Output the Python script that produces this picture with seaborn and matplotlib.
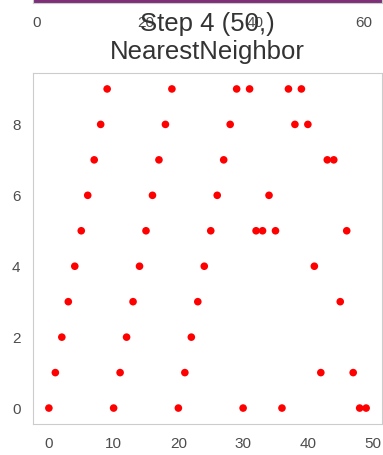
import numpy as np
import pandas as pd
import matplotlib
matplotlib.use('Agg')
import matplotlib.pyplot as plt
import seaborn as sns

sns.set_style('whitegrid')
plt.rcParams['font.family'] = ['Liberation Sans', 'DejaVu Sans']

# data
step_index = list(range(50))
step_values = [0, 1, 2, 3, 4, 5, 6, 7, 8, 9,
               0, 1, 2, 3, 4, 5, 6, 7, 8, 9,
               0, 1, 2, 3, 4, 5, 6, 7, 8, 9,
               0, 9, 5, 5, 6, 5, 0, 9, 8, 9,
               8, 4, 1, 7, 7, 3, 5, 1, 0, 0]
title_lines = ['Step 4 (50,)', 'NearestNeighbor']

# the panel above is cut off, only its last line and x ticks show
prev_level = 0
prev_ticks = [0, 20, 40, 60]

df = pd.DataFrame({'idx': step_index, 'val': step_values})

fig = plt.figure(figsize=(3.83, 4.55), dpi=100)

# upper (cropped) panel
ax0 = fig.add_axes([0.0862, 0.9934, 0.9112, 0.2])
ax0.axhline(prev_level, color='#7d2f78', lw=2.2)
ax0.set_xlim(-0.73, 63.3)
ax0.set_ylim(-0.02, 1)
ax0.set_xticks(prev_ticks)
ax0.set_yticks([])
ax0.grid(False)
ax0.tick_params(axis='x', length=0, pad=9, labelsize=11, labelcolor='.3')
for s in ax0.spines.values():
    s.set_color('.8')

# main panel
ax = fig.add_axes([0.0862, 0.0681, 0.9112, 0.7715])
sns.scatterplot(data=df, x='idx', y='val', color='red', s=30,
                edgecolor='none', ax=ax)
ax.grid(False)
ax.set_xlabel('')
ax.set_ylabel('')
ax.set_xticks([0, 10, 20, 30, 40, 50])
ax.set_yticks([0, 2, 4, 6, 8])
ax.tick_params(length=0, pad=9, labelsize=11, labelcolor='.3')
for s in ax.spines.values():
    s.set_color('.8')
ax.set_title('\n'.join(title_lines), fontsize=18.5, color='.2', pad=10)

fig.savefig('out.png', dpi=100)
